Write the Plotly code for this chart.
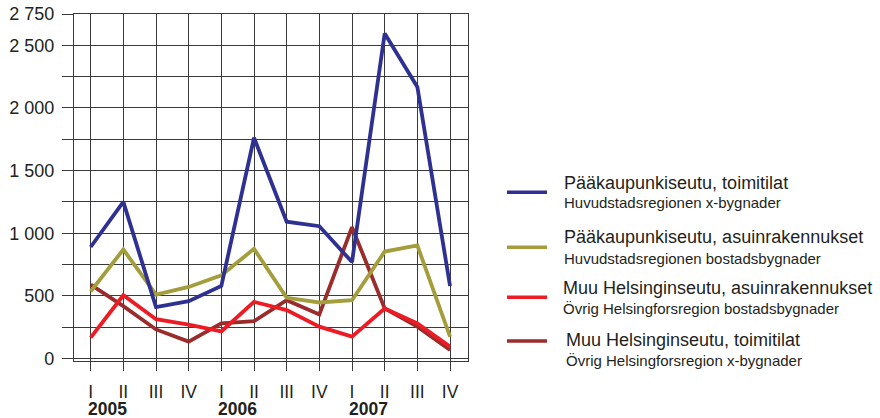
import plotly.graph_objects as go

quarters = ["I", "II", "III", "IV", "I", "II", "III", "IV", "I", "II", "III", "IV"]
years = ["2005", "2006", "2007"]

pks_toimitilat = [890, 1250, 410, 458, 579, 1762, 1092, 1056, 770, 2595, 2167, 579]
pks_asuin = [535, 870, 510, 571, 664, 875, 484, 447, 465, 854, 902, 175]
muu_asuin = [167, 505, 314, 270, 216, 452, 386, 254, 175, 399, 280, 95]
muu_toimitilat = [590, 418, 232, 135, 280, 298, 465, 352, 1048, 399, 254, 68]

series_main = [
    "Pääkaupunkiseutu, toimitilat",
    "Pääkaupunkiseutu, asuinrakennukset",
    "Muu Helsinginseutu, asuinrakennukset",
    "Muu Helsinginseutu, toimitilat",
]
series_sub = [
    "Huvudstadsregionen x-bygnader",
    "Huvudstadsregionen bostadsbygnader",
    "Övrig Helsingforsregion bostadsbygnader",
    "Övrig Helsingforsregion x-bygnader",
]
colors = ["#2e3192", "#a39d3b", "#ed1c24", "#9b2c2c"]

ytick_vals = [0, 500, 1000, 1500, 2000, 2500, 2750]
ytick_text = ["0", "500", "1 000", "1 500", "2 000", "2 500", "2 750"]

x = list(range(len(quarters)))
values = [pks_toimitilat, pks_asuin, muu_asuin, muu_toimitilat]

fig = go.Figure()
for i in [3, 2, 1, 0]:
    fig.add_trace(go.Scatter(x=x, y=values[i], mode="lines",
                             line=dict(color=colors[i], width=3.8),
                             name=series_main[i], showlegend=False))

FONT = "Liberation Sans, Arial, sans-serif"
GRID = "#3a3a3a"

# plot area in pixels
X0, X1, Y0, Y1 = 74, 468, 14, 361
def px(v):
    return (v - X0) / (X1 - X0)
def py(v):
    return (Y1 - v) / (Y1 - Y0)

fig.update_layout(
    width=880, height=418,
    margin=dict(l=X0, r=880 - X1, t=Y0, b=418 - Y1, pad=0, autoexpand=False),
    paper_bgcolor="white", plot_bgcolor="white",
    font=dict(family=FONT, size=18, color="#231f20"),
    xaxis=dict(range=[-0.51, 11.55], tickvals=x, ticktext=quarters,
               showgrid=True, gridcolor=GRID, gridwidth=1.4,
               ticks="outside", ticklen=9, tickcolor=GRID, tickwidth=1.4,
               showline=True, mirror=True, linecolor=GRID, linewidth=1.4,
               zeroline=False, ticklabelstandoff=6, automargin=False,
               tickfont=dict(family=FONT, size=17.5, color="#231f20")),
    yaxis=dict(range=[-20, 2750], tickvals=ytick_vals, ticktext=ytick_text,
               showgrid=True, gridcolor=GRID, gridwidth=1.4,
               ticks="outside", ticklen=11, tickcolor=GRID, tickwidth=1.4,
               minor=dict(tickvals=[250, 750, 1250, 1750, 2250], ticks="outside",
                          ticklen=11, tickcolor=GRID, tickwidth=1.4,
                          showgrid=True, gridcolor=GRID, gridwidth=1.4),
               showline=True, mirror=True, linecolor=GRID, linewidth=1.4,
               zeroline=False, ticklabelstandoff=4, automargin=False,
               tickfont=dict(family=FONT, size=18, color="#231f20")),
)

# year labels
for k, yr in enumerate(years):
    fig.add_annotation(x=4 * k + 0.5, xref="x", y=py(409), yref="paper",
                       text="<b>" + yr + "</b>", showarrow=False,
                       xanchor="center", yanchor="middle",
                       font=dict(family=FONT, size=17.5, color="#231f20"))

# legend
line_y = [192.3, 247.3, 297.3, 341]
main_y = [182.7, 237.3, 288.3, 340]
sub_y = [202.7, 258.3, 308.3, 360]
text_x = [562, 562, 560.5, 563.5]
for i in range(4):
    fig.add_shape(type="line", xref="paper", yref="paper",
                  x0=px(507), x1=px(547), y0=py(line_y[i]), y1=py(line_y[i]),
                  line=dict(color=colors[i], width=3.6))
    fig.add_annotation(x=px(text_x[i]), y=py(main_y[i]), xref="paper", yref="paper",
                       text=series_main[i], showarrow=False, xanchor="left",
                       yanchor="middle", font=dict(family=FONT, size=18, color="#231f20"))
    fig.add_annotation(x=px(text_x[i]), y=py(sub_y[i]), xref="paper", yref="paper",
                       text=series_sub[i], showarrow=False, xanchor="left",
                       yanchor="middle", font=dict(family=FONT, size=15, color="#231f20"))

fig.write_html("out.html", config={"displayModeBar": False},
               post_script="document.body.style.margin='0';document.body.style.overflow='hidden';")
